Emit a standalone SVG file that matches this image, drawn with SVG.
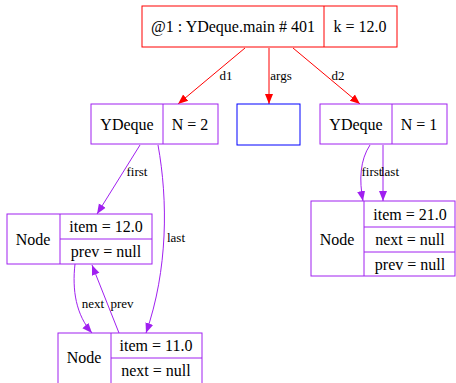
<svg xmlns="http://www.w3.org/2000/svg" width="456" height="383" viewBox="0 0 456 383">
<defs>
<style>
text{font-family:"Liberation Serif","Times New Roman",serif;fill:#000;text-anchor:middle}
.n{font-size:16px}
.l{font-size:13px}
.red{stroke:#ff0000;fill:none;stroke-width:1}
.pur{stroke:#a020f0;fill:none;stroke-width:1}
.box{fill:#fff}
</style>
<marker id="ar" viewBox="0 0 10 10" refX="10" refY="5" markerWidth="10" markerHeight="10" markerUnits="userSpaceOnUse" orient="auto"><path d="M0,1 L10,5 L0,9 Z" fill="#ff0000"/></marker>
<marker id="ap" viewBox="0 0 10 10" refX="10" refY="5" markerWidth="10" markerHeight="10" markerUnits="userSpaceOnUse" orient="auto"><path d="M0,1 L10,5 L0,9 Z" fill="#a020f0"/></marker>
</defs>
<rect width="456" height="383" fill="#fff"/>
<g id="connectors">
<path class="red" d="M245,48 L178,104" marker-end="url(#ar)"/>
<text class="l" x="226" y="80">d1</text>
<path class="red" d="M269,48 L269,104" marker-end="url(#ar)"/>
<text class="l" x="281" y="80">args</text>
<path class="red" d="M293,48 L360,104" marker-end="url(#ar)"/>
<text class="l" x="338" y="80">d2</text>
<path class="pur" d="M140,145 L97,214" marker-end="url(#ap)"/>
<text class="l" x="137" y="176">first</text>
<path class="pur" d="M158,145 C168,200 168,270 146,333" marker-end="url(#ap)"/>
<text class="l" x="176" y="242">last</text>
<path class="pur" d="M75,264 C72,290 76,315 92,333" marker-end="url(#ap)"/>
<text class="l" x="93" y="308">next</text>
<path class="pur" d="M119,333 L92,265" marker-end="url(#ap)"/>
<text class="l" x="122" y="308">prev</text>
<path class="pur" d="M370,145 C360,160 359,180 363,201" marker-end="url(#ap)"/>
<text class="l" x="372" y="176">first</text>
<path class="pur" d="M383,145 L383,201" marker-end="url(#ap)"/>
<text class="l" x="390" y="176">last</text>
</g>
<g id="main">
<rect class="box" x="142" y="6" width="255" height="41" stroke="#ff0000"/>
<line x1="324" y1="6" x2="324" y2="47" stroke="#ff0000"/>
<text class="n" x="233" y="32">@1 : YDeque.main # 401</text>
<text class="n" x="360" y="32">k = 12.0</text>
</g>
<g id="args">
<rect class="box" x="237" y="104" width="63" height="41" stroke="#0000ff"/>
</g>
<g id="d1">
<rect class="box" x="91" y="104" width="127" height="40" stroke="#a020f0"/>
<line x1="163" y1="104" x2="163" y2="144" stroke="#a020f0"/>
<text class="n" x="127" y="130">YDeque</text>
<text class="n" x="190" y="130">N = 2</text>
</g>
<g id="d2">
<rect class="box" x="320" y="104" width="127" height="40" stroke="#a020f0"/>
<line x1="392" y1="104" x2="392" y2="144" stroke="#a020f0"/>
<text class="n" x="356" y="130">YDeque</text>
<text class="n" x="419" y="130">N = 1</text>
</g>
<g id="node12">
<rect class="box" x="7" y="214" width="145" height="50" stroke="#a020f0"/>
<line x1="60" y1="214" x2="60" y2="264" stroke="#a020f0"/>
<line x1="60" y1="239" x2="152" y2="239" stroke="#a020f0"/>
<text class="n" x="33" y="245">Node</text>
<text class="n" x="106" y="232">item = 12.0</text>
<text class="n" x="106" y="257">prev = null</text>
</g>
<g id="node11">
<rect class="box" x="58" y="333" width="144" height="55" stroke="#a020f0"/>
<line x1="111" y1="333" x2="111" y2="388" stroke="#a020f0"/>
<line x1="111" y1="358" x2="202" y2="358" stroke="#a020f0"/>
<text class="n" x="84" y="363">Node</text>
<text class="n" x="156" y="351">item = 11.0</text>
<text class="n" x="156" y="376">next = null</text>
</g>
<g id="node21">
<rect class="box" x="311" y="201" width="144" height="75" stroke="#a020f0"/>
<line x1="364" y1="201" x2="364" y2="276" stroke="#a020f0"/>
<line x1="364" y1="227" x2="455" y2="227" stroke="#a020f0"/>
<line x1="364" y1="252" x2="455" y2="252" stroke="#a020f0"/>
<text class="n" x="337" y="245">Node</text>
<text class="n" x="410" y="220">item = 21.0</text>
<text class="n" x="410" y="245">next = null</text>
<text class="n" x="410" y="270">prev = null</text>
</g>
</svg>
